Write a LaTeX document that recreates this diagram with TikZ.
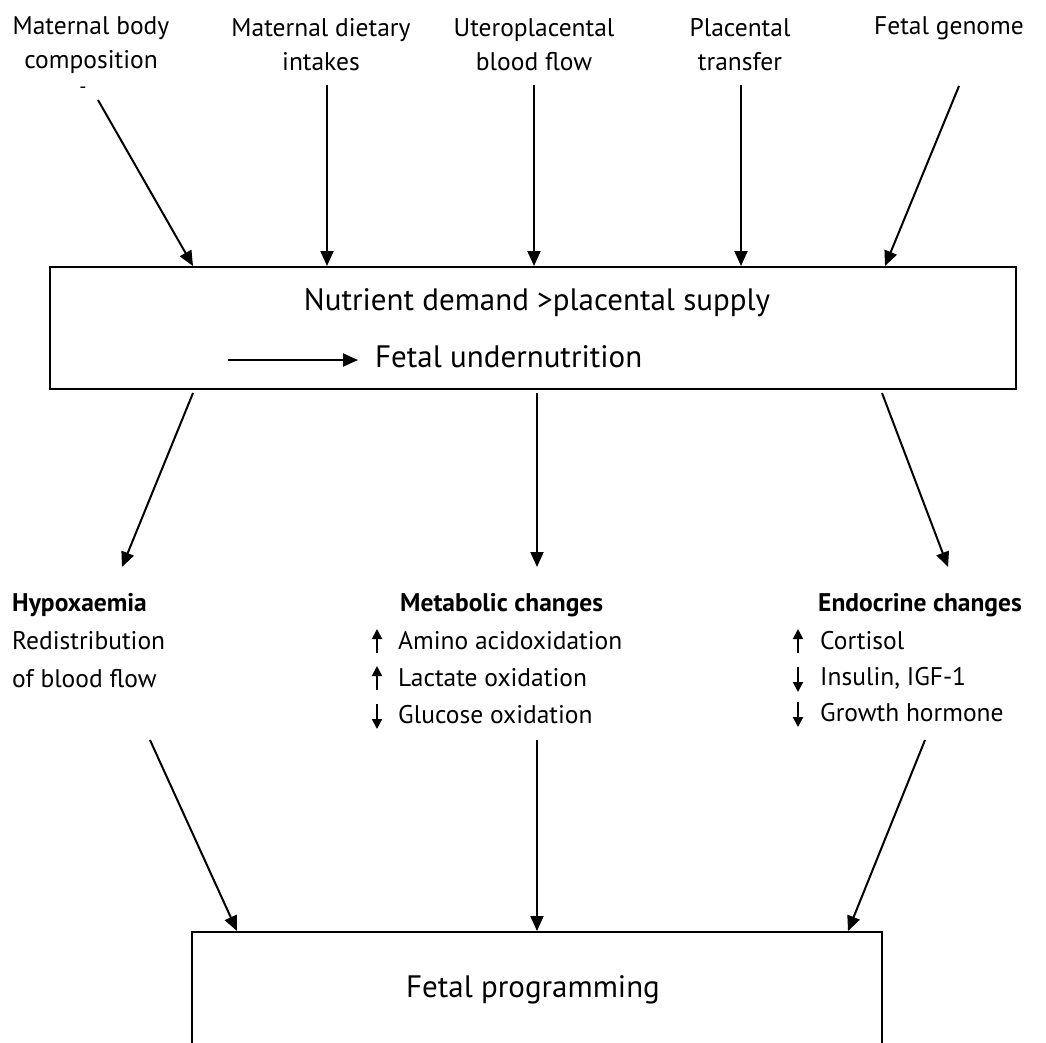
\documentclass[tikz,border=0pt]{standalone}
\usepackage{fontspec}
\setmainfont{PT Sans}
\usetikzlibrary{arrows.meta,calc}
\begin{document}
\begin{tikzpicture}[x=1pt,y=-1pt,
  lbl/.style={align=center, inner sep=0pt, font=\fontsize{25.5}{34}\selectfont},
  big/.style={inner sep=0pt, font=\fontsize{31}{36}\selectfont},
  txt/.style={anchor=west, inner sep=0pt, font=\fontsize{25.5}{30}\selectfont},
  hdr/.style={anchor=west, inner sep=0pt, font=\fontsize{25.5}{30}\selectfont\bfseries},
  box/.style={draw, line width=2pt, inner sep=0pt},
  con/.style={line width=2pt, -{Triangle[length=15pt,width=13pt]}},
  sarr/.style={line width=2pt, -{Triangle[length=10pt,width=10pt]}}]
\useasboundingbox (0,0) rectangle (1046,1042);
\clip (0,0) rectangle (1046,1042);

% top labels
\node[lbl] (mbc) at (91,45) {Maternal body\\composition};
\node[inner sep=0pt, font=\fontsize{20}{20}\selectfont] (dash) at (83,90) {-};
\node[lbl] (mdi) at (321,45) {Maternal dietary\\intakes};
\node[lbl] (ubf) at (534,45) {Uteroplacental\\blood flow};
\node[lbl] (ptr) at (740,45) {Placental\\transfer};
\node[lbl] (fg) at (949,28) {Fetal genome};

% top box
\node[box, minimum width=966pt, minimum height=122pt] (topbox) at (533,328) {};
\node[big] (nd) at (537,303) {Nutrient demand >placental supply};
\node[big, anchor=west] (fu) at (375,357) {Fetal undernutrition};
\coordinate (fa) at (228,360);
\coordinate (fae) at (358,360);
\draw[con] (fa) -- (fae);

% top arrows
\coordinate (t1) at (98,100);  \coordinate (t1e) at (193,267);
\coordinate (t2) at (327,85);
\coordinate (t3) at (534,85);
\coordinate (t4) at (741,85);
\coordinate (t5) at (959,86);  \coordinate (t5e) at (885,267);
\draw[con] (t1) -- (t1e |- topbox.north);
\draw[con] (t2) -- (t2 |- topbox.north);
\draw[con] (t3) -- (t3 |- topbox.north);
\draw[con] (t4) -- (t4 |- topbox.north);
\draw[con] (t5) -- (t5e |- topbox.north);

% middle arrows
\coordinate (m1) at (193,393); \coordinate (m1e) at (122,567);
\coordinate (m2) at (537,393); \coordinate (m2e) at (537,567);
\coordinate (m3) at (882,393); \coordinate (m3e) at (948,567);
\draw[con] (m1) -- (m1e);
\draw[con] (m2) -- (m2e);
\draw[con] (m3) -- (m3e);

% middle texts
\node[hdr] (hy) at (12,605) {Hypoxaemia};
\node[txt] (rd) at (12,641) {Redistribution};
\node[txt] (bf) at (12,679) {of blood flow};

\node[hdr] (mc) at (400,605) {Metabolic changes};
\node[txt] (am) at (398,641) {Amino acidoxidation};
\node[txt] (lo) at (398,678) {Lactate oxidation};
\node[txt] (go) at (398,715) {Glucose oxidation};
\draw[sarr] ($(am.west)+(-21,12)$) -- ($(am.west)+(-21,-12)$);
\draw[sarr] ($(lo.west)+(-21,12)$) -- ($(lo.west)+(-21,-12)$);
\draw[sarr] ($(go.west)+(-21,-11)$) -- ($(go.west)+(-21,14)$);

\node[hdr] (ec) at (818,605) {Endocrine changes};
\node[txt] (co) at (820,641) {Cortisol};
\node[txt] (ins) at (820,678) {Insulin, IGF-1};
\node[txt] (gh) at (820,713) {Growth hormone};
\draw[sarr] ($(co.west)+(-22,12)$) -- ($(co.west)+(-22,-12)$);
\draw[sarr] ($(ins.west)+(-22,-11)$) -- ($(ins.west)+(-22,14)$);
\draw[sarr] ($(gh.west)+(-22,-11)$) -- ($(gh.west)+(-22,14)$);

% bottom box
\node[box, minimum width=690pt, minimum height=160pt, anchor=north] (fpbox) at (537,931) {};
\node[big] (fp) at (533,990) {Fetal programming};

% bottom arrows
\coordinate (b1) at (150,740); \coordinate (b1e) at (237,931);
\coordinate (b2) at (537,740);
\coordinate (b3) at (925,740); \coordinate (b3e) at (848,931);
\draw[con] (b1) -- (b1e |- fpbox.north);
\draw[con] (b2) -- (b2 |- fpbox.north);
\draw[con] (b3) -- (b3e |- fpbox.north);
\end{tikzpicture}
\end{document}
